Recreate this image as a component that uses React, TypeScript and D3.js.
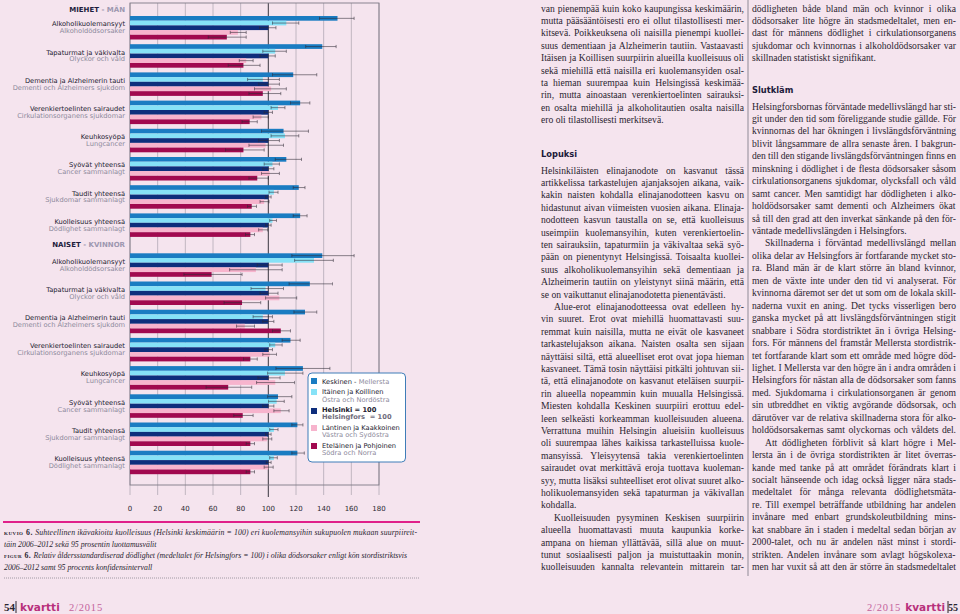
import React from 'react';
import * as d3 from 'd3';

const BG = '#f5e4ee';

const regionsFi = ['Keskinen - ', 'Itäinen ja Koillinen', 'Helsinki = 100', 'Läntinen ja Kaakkoinen', 'Eteläinen ja Pohjoinen'];
const regionsSv = ['Mellersta', 'Östra och Nordöstra', 'Helsingfors  = 100', 'Västra och Sydöstra', 'Södra och Norra'];
const regionColors = ['#1a7cc2', '#86e2f7', '#0e2e7c', '#f7b4cd', '#a1094f'];

const causesFi = ['Alkoholikuolemansyyt', 'Tapaturmat ja väkivalta', 'Dementia ja Alzheimerin tauti', 'Verenkiertoelinten sairaudet', 'Keuhkosyöpä', 'Syövät yhteensä', 'Taudit yhteensä', 'Kuolleisuus yhteensä'];
const causesSv = ['Alkoholdödsorsaker', 'Olyckor och våld', 'Dementi och Alzheimers sjukdom', 'Cirkulationsorganens sjukdomar', 'Lungcancer', 'Cancer sammanlagt', 'Sjukdomar sammanlagt', 'Dödlighet sammanlagt'];

// [Keskinen, Itäinen, Helsinki, Läntinen, Eteläinen]
const menValues = [
  [150, 113, 100, 78, 70],
  [139, 105, 100, 84, 82],
  [118, 96, 100, 102, 96],
  [123, 107, 100, 95, 86.5],
  [111, 112, 100, 98, 82],
  [113, 103, 100, 101, 92],
  [122, 104, 100, 97, 88],
  [123, 103, 100, 96, 87],
];
const menLow = [
  [137, 103, 93.5, 72.5, 56.6],
  [127, 96, 94, 79, 71],
  [103, 85, 93, 90, 86],
  [116, 102, 97, 89, 81],
  [95, 102, 93, 86, 69],
  [105, 97, 96, 95, 86],
  [118, 100.5, 98, 94, 85],
  [118, 101, 98, 93, 83.5],
];
const menHigh = [
  [162, 122, 105.5, 84, 84],
  [149, 113, 105, 89, 94],
  [135, 108, 108, 113, 109],
  [130, 112, 103, 100, 92],
  [129, 122, 108, 111, 97],
  [124, 108, 104, 108, 100],
  [126.5, 107, 102, 100.5, 91.5],
  [128, 106, 102, 99.5, 90],
];
const womenValues = [
  [139, 133, 100, 91, 59],
  [130, 98, 100, 108, 81],
  [126.5, 96, 100, 83, 109],
  [116, 105, 100, 101, 87],
  [125, 112, 100, 105, 71],
  [107, 106, 100, 109, 81.5],
  [121, 104, 100, 99, 87],
  [121, 104, 100, 100, 87],
];
const womenLow = [
  [117, 119, 92, 72, 39],
  [115, 87.5, 94, 98, 68],
  [118.5, 89, 96, 77, 103],
  [110, 101, 97.5, 96, 82],
  [105.5, 99.5, 92.5, 91.5, 55],
  [99.5, 100, 96, 104, 75],
  [117, 101, 98, 96, 84],
  [117, 101, 98.5, 97, 84],
];
const womenHigh = [
  [162, 147, 110, 110, 81],
  [146.5, 111, 107, 120.5, 94.5],
  [135, 103, 104, 90, 116],
  [123, 110, 103, 106, 92],
  [144.5, 125, 108.5, 119, 88],
  [117, 111.5, 104, 115, 89],
  [125, 107, 102, 102.5, 90],
  [126, 106.5, 102, 103.5, 90],
];

const xTicks = [0, 20, 40, 60, 80, 100, 120, 140, 160, 180];

const captionLines = [
  'Suhteellinen ikävakioitu kuolleisuus (Helsinki keskimäärin = 100) eri kuolemansyihin sukupuolen mukaan suurpiireit-',
  'täin 2006–2012 sekä 95 prosentin luottamusvälit',
  'Relativ åldersstandardiserad dödlighet (medeltalet för Helsingfors = 100) i olika dödsorsaker enligt kön stordistriktsvis',
  '2006–2012 samt 95 procents konfidensintervall',
];

// '>' = paragraph indent, '¶' = last line of paragraph (not justified)
const col1Top = [
  'van pienempää kuin koko kaupungissa keskimäärin,',
  'mutta pääsääntöisesti ero ei ollut tilastollisesti mer-',
  'kitsevä. Poikkeuksena oli naisilla pienempi kuollei-',
  'suus dementiaan ja Alzheimerin tautiin. Vastaavasti',
  'Itäisen ja Koillisen suurpiirin alueilla kuolleisuus oli',
  'sekä miehillä että naisilla eri kuolemansyiden osal-',
  'ta hieman suurempaa kuin Helsingissä keskimää-',
  'rin, mutta ainoastaan verenkiertoelinten sairauksi-',
  'en osalta miehillä ja alkoholitautien osalta naisilla',
  'ero oli tilastollisesti merkitsevä.¶',
];
const col1Body = [
  'Helsinkiläisten elinajanodote on kasvanut tässä',
  'artikkelissa tarkastelujen ajanjaksojen aikana, vaik-',
  'kakin naisten kohdalla elinajanodotteen kasvu on',
  'hidastunut aivan viimeisten vuosien aikana. Elinaja-',
  'nodotteen kasvun taustalla on se, että kuolleisuus',
  'useimpiin kuolemansyihin, kuten verenkiertoelin-',
  'ten sairauksiin, tapaturmiin ja väkivaltaa sekä syö-',
  'pään on pienentynyt Helsingissä. Toisaalta kuollei-',
  'suus alkoholikuolemansyihin sekä dementiaan ja',
  'Alzheimerin tautiin on yleistynyt siinä määrin, että',
  'se on vaikuttanut elinajanodotetta pienentävästi.¶',
  '>Alue-erot elinajanodotteessa ovat edelleen hy-',
  'vin suuret. Erot ovat miehillä huomattavasti suu-',
  'remmat kuin naisilla, mutta ne eivät ole kasvaneet',
  'tarkastelujakson aikana. Naisten osalta sen sijaan',
  'näyttäisi siltä, että alueelliset erot ovat jopa hieman',
  'kasvaneet. Tämä tosin näyttäisi pitkälti johtuvan sii-',
  'tä, että elinajanodote on kasvanut eteläisen suurpii-',
  'rin alueella nopeammin kuin muualla Helsingissä.',
  'Miesten kohdalla Keskinen suurpiiri erottuu edel-',
  'leen selkeästi korkeamman kuolleisuuden alueena.',
  'Verrattuna muihin Helsingin alueisiin kuolleisuus',
  'oli suurempaa lähes kaikissa tarkastelluissa kuole-',
  'mansyissä. Yleisyytensä takia verenkiertoelinten',
  'sairaudet ovat merkittävä eroja tuottava kuoleman-',
  'syy, mutta lisäksi suhteelliset erot olivat suuret alko-',
  'holikuolemansyiden sekä tapaturman ja väkivallan',
  'kohdalla.¶',
  '>Kuolleisuuden pysyminen Keskisen suurpiirin',
  'alueella huomattavasti muuta kaupunkia korke-',
  'ampana on hieman yllättävää, sillä alue on muut-',
  'tunut sosiaalisesti paljon ja muistuttaakin monin,',
  'kuolleisuuden kannalta relevantein mittarein tar-',
];
const col2Top = [
  'dödligheten både bland män och kvinnor i olika',
  'dödsorsaker lite högre än stadsmedeltalet, men en-',
  'dast för männens dödlighet i cirkulationsorganens',
  'sjukdomar och kvinnornas i alkoholdödsorsaker var',
  'skillnaden statistiskt signifikant.¶',
];
const col2Body = [
  'Helsingforsbornas förväntade medellivslängd har sti-',
  'git under den tid som föreliggande studie gällde. För',
  'kvinnornas del har ökningen i livslängdsförväntning',
  'blivit långsammare de allra senaste åren. I bakgrun-',
  'den till den stigande livslängdsförväntningen finns en',
  'minskning i dödlighet i de flesta dödsorsaker såsom',
  'cirkulationsorganens sjukdomar, olycksfall och våld',
  'samt cancer. Men samtidigt har dödligheten i alko-',
  'holdödsorsaker samt dementi och Alzheimers ökat',
  'så till den grad att den inverkat sänkande på den för-',
  'väntade medellivslängden i Helsingfors.¶',
  '>Skillnaderna i förväntad medellivslängd mellan',
  'olika delar av Helsingfors är fortfarande mycket sto-',
  'ra. Bland män är de klart större än bland kvinnor,',
  'men de växte inte under den tid vi analyserat. För',
  'kvinnorna däremot ser det ut som om de lokala skill-',
  'naderna vuxit en aning. Det tycks visserligen bero',
  'ganska mycket på att livslängdsförväntningen stigit',
  'snabbare i Södra stordistriktet än i övriga Helsing-',
  'fors. För männens del framstår Mellersta stordistrik-',
  'tet fortfarande klart som ett område med högre död-',
  'lighet. I Mellersta var den högre än i andra områden i',
  'Helsingfors för nästan alla de dödsorsaker som fanns',
  'med. Sjukdomarna i cirkulationsorganen är genom',
  'sin utbreddhet en viktig avgörande dödsorsak, och',
  'därutöver var de relativa skillnaderna stora för alko-',
  'holdödsorsakernas samt olyckornas och våldets del.',
  '>Att dödligheten förblivit så klart högre i Mel-',
  'lersta än i de övriga stordistrikten är litet överras-',
  'kande med tanke på att området förändrats klart i',
  'socialt hänseende och idag också ligger nära stads-',
  'medeltalet för många relevanta dödlighetsmäta-',
  're. Till exempel beträffande utbildning har andelen',
  'invånare med enbart grundskoleutbildning mins-',
  'kat snabbare än i staden i medeltal sedan början av',
  '2000-talet, och nu är andelen näst minst i stordi-',
  'strikten. Andelen invånare som avlagt högskolexa-',
  'men har vuxit så att den är större än stadsmedeltalet',
];

const SERIF = "'Liberation Serif', 'DejaVu Serif', serif";
const SANS = "'DejaVu Sans', Verdana, sans-serif";
const BODY_SIZE = 9.6;
const TEXT_COLOR = '#2b2530';

let ctx: CanvasRenderingContext2D | null = null;
function measure(s: string, font: string): number {
  if (!ctx) ctx = document.createElement('canvas').getContext('2d');
  if (!ctx) return s.length * 4.3;
  ctx.font = font;
  return ctx.measureText(s).width;
}

function TextBlock({ lines, x, y0, lh, width }: { lines: string[]; x: number; y0: number; lh: number; width: number }) {
  return (
    <g>
      {lines.map((raw, i) => {
        let s = raw;
        let indent = 0;
        let just = true;
        if (s.startsWith('>')) { indent = 13; s = s.slice(1); }
        if (s.endsWith('¶')) { just = false; s = s.slice(0, -1); }
        let ws = 0;
        if (just) {
          const w = measure(s, `${BODY_SIZE}px ${SERIF}`);
          const spaces = (s.match(/ /g) || []).length;
          if (spaces > 0) ws = (width - indent - w) / spaces;
        }
        return (
          <text key={i} x={x + indent} y={y0 + i * lh} fontFamily={SERIF} fontSize={BODY_SIZE} fill={TEXT_COLOR}
            style={{ wordSpacing: `${ws}px`, whiteSpace: 'pre' }}>{s}</text>
        );
      })}
    </g>
  );
}

export default function App() {
  const x = d3.scaleLinear().domain([0, 180]).range([130, 379]);
  const idx = d3.range(8);
  const yMen = d3.scaleBand<number>().domain(idx).range([16, 236.9]).paddingInner(0.167).paddingOuter(0);
  const yWomen = d3.scaleBand<number>().domain(idx).range([253.3, 474.2]).paddingInner(0.167).paddingOuter(0);
  const yInner = d3.scaleBand<number>().domain(d3.range(5)).range([0, yMen.bandwidth()]);
  const bh = yInner.bandwidth();

  const frameTop = 3;
  const frameBottom = 485;

  const sections = [
    { y: yMen, vals: menValues, lo: menLow, hi: menHigh, headA: 'MIEHET', headB: ' - MÄN', headY: 11.5 },
    { y: yWomen, vals: womenValues, lo: womenLow, hi: womenHigh, headA: 'NAISET', headB: ' - KVINNOR', headY: 247 },
  ];

  const legendRows = [
    { sw: 378, l1: 384, l2: null },
    { sw: 389, l1: 394, l2: 401.5 },
    { sw: 408, l1: 412, l2: 419 },
    { sw: 425, l1: 430, l2: 437 },
    { sw: 443, l1: 448, l2: 455 },
  ];

  return (
    <svg width={960} height={614} style={{ position: 'absolute', left: 0, top: 0, display: 'block' }}>
      <rect x={0} y={0} width={960} height={614} fill={BG} />

      {/* grid */}
      {xTicks.map((t) => (
        <line key={t} x1={x(t)} x2={x(t)} y1={frameTop} y2={t === 100 ? 497 : 495}
          stroke={t === 100 ? '#4a4650' : '#b3aab5'} strokeWidth={t === 100 ? 1.1 : 0.8} />
      ))}
      <rect x={x(0)} y={frameTop} width={x(180) - x(0)} height={frameBottom - frameTop} fill="none" stroke="#7f7a86" strokeWidth={0.9} />

      {sections.map((sec, si) => (
        <g key={si}>
          <text x={125} y={sec.headY} textAnchor="end" fontFamily={SANS} fontSize={7} fontWeight="bold">
            <tspan fill="#1d1c3c">{sec.headA}</tspan>
            <tspan fill="#9d97b0">{sec.headB}</tspan>
          </text>
          {idx.map((g) => {
            const top = sec.y(g) as number;
            return (
              <g key={g}>
                <text x={125} y={top + 10.3} textAnchor="end" fontFamily={SANS} fontSize={6.7} fill="#22202e">{causesFi[g]}</text>
                <text x={125} y={top + 17.2} textAnchor="end" fontFamily={SANS} fontSize={6.7} fill="#8d8a9c">{causesSv[g]}</text>
                {sec.vals[g].map((v, r) => {
                  const by = top + (yInner(r) as number);
                  return (
                    <rect key={r} x={x(0)} y={by} width={x(v) - x(0)} height={bh} fill={regionColors[r]} />
                  );
                })}
                {sec.vals[g].map((v, r) => {
                  const cy = top + (yInner(r) as number) + bh / 2;
                  const x1 = x(sec.lo[g][r]);
                  const x2 = x(sec.hi[g][r]);
                  return (
                    <g key={'e' + r} stroke="#2e2a35" strokeWidth={0.65} opacity={0.85}>
                      <line x1={x1} x2={x2} y1={cy} y2={cy} />
                      <line x1={x1} x2={x1} y1={cy - 1.6} y2={cy + 1.6} />
                      <line x1={x2} x2={x2} y1={cy - 1.6} y2={cy + 1.6} />
                    </g>
                  );
                })}
              </g>
            );
          })}
        </g>
      ))}

      {/* axis tick labels */}
      {xTicks.map((t) => (
        <text key={t} x={x(t)} y={511} textAnchor="middle" fontFamily={SANS} fontSize={7} fill="#2a2830">{t}</text>
      ))}

      {/* legend */}
      <rect x={308} y={373} width={97.5} height={89} rx={4} ry={4} fill="#ffffff" stroke="#3f7db8" strokeWidth={1} />
      {legendRows.map((row, i) => (
        <g key={i}>
          <rect x={311} y={row.sw} width={6} height={6} fill={regionColors[i]} />
          {i === 0 ? (
            <text x={322} y={row.l1} fontFamily={SANS} fontSize={6.7}>
              <tspan fill="#22202e">{regionsFi[0]}</tspan>
              <tspan fill="#8d8a9c">{regionsSv[0]}</tspan>
            </text>
          ) : (
            <>
              <text x={322} y={row.l1} fontFamily={SANS} fontSize={6.7} fontWeight={i === 2 ? 'bold' : 'normal'} fill="#22202e" style={{ whiteSpace: 'pre' }}>{regionsFi[i]}</text>
              <text x={322} y={row.l2 as number} fontFamily={SANS} fontSize={6.7} fontWeight={i === 2 ? 'bold' : 'normal'} fill={i === 2 ? '#6f6c7c' : '#8d8a9c'} style={{ whiteSpace: 'pre' }}>{regionsSv[i]}</text>
            </>
          )}
        </g>
      ))}

      {/* caption */}
      <line x1={3} x2={420} y1={522} y2={522} stroke="#e0208a" strokeWidth={2} />
      <text x={4} y={535} fontFamily={SERIF} fontSize={7.8} fill="#2a2530" textLength={413} lengthAdjust="spacing">
        <tspan fontWeight="bold" style={{ fontVariant: 'small-caps' }} letterSpacing={0.4}>kuvio 6. </tspan>
        <tspan fontStyle="italic">{captionLines[0]}</tspan>
      </text>
      <text x={4} y={546.5} fontFamily={SERIF} fontSize={7.8} fill="#2a2530" fontStyle="italic">{captionLines[1]}</text>
      <text x={4} y={558} fontFamily={SERIF} fontSize={7.8} fill="#2a2530" textLength={403} lengthAdjust="spacing">
        <tspan fontWeight="bold" style={{ fontVariant: 'small-caps' }} letterSpacing={0.4}>figur 6. </tspan>
        <tspan fontStyle="italic">{captionLines[2]}</tspan>
      </text>
      <text x={4} y={569.5} fontFamily={SERIF} fontSize={7.8} fill="#2a2530" fontStyle="italic">{captionLines[3]}</text>
      <line x1={4} x2={420} y1={578} y2={578} stroke="#8a8590" strokeWidth={0.8} strokeDasharray="1,1" />

      {/* footer left */}
      <text x={4} y={611} fontFamily={SERIF} fontSize={11} fontWeight="bold" fill="#2a2530">54</text>
      <line x1={16} x2={16} y1={601} y2={613} stroke="#2a2530" strokeWidth={1} />
      <text x={20} y={610.5} fontFamily={SANS} fontSize={10.5} fontWeight="bold" fill="#b8307c">kvartti</text>
      <text x={69} y={610.5} fontFamily={SERIF} fontSize={10.5} fill="#c4639c" letterSpacing={0.8}>2/2015</text>

      {/* footer right */}
      <text x={901} y={610.5} textAnchor="end" fontFamily={SERIF} fontSize={10.5} fill="#c4639c" letterSpacing={0.8}>2/2015</text>
      <text x={945} y={610.5} textAnchor="end" fontFamily={SANS} fontSize={10.5} fontWeight="bold" fill="#b8307c">kvartti</text>
      <line x1={948} x2={948} y1={601} y2={613} stroke="#2a2530" strokeWidth={1} />
      <text x={958} y={611} textAnchor="end" fontFamily={SERIF} fontSize={10} fontWeight="bold" fill="#2a2530">55</text>

      {/* text columns */}
      <TextBlock lines={col1Top} x={541} y0={11.5} lh={12.4} width={203} />
      <text x={541} y={156.5} fontFamily={SANS} fontSize={8.3} fontWeight="bold" fill="#1c1a3a">Lopuksi</text>
      <TextBlock lines={col1Body} x={541} y0={173.5} lh={12.4} width={203} />

      <line x1={748} x2={748} y1={0} y2={576} stroke="#8f8a96" strokeWidth={1} />

      <TextBlock lines={col2Top} x={752} y0={11.5} lh={12.4} width={204} />
      <text x={752} y={92.5} fontFamily={SANS} fontSize={8.3} fontWeight="bold" fill="#1c1a3a">Slutkläm</text>
      <TextBlock lines={col2Body} x={752} y0={109.5} lh={12.45} width={204} />
    </svg>
  );
}
